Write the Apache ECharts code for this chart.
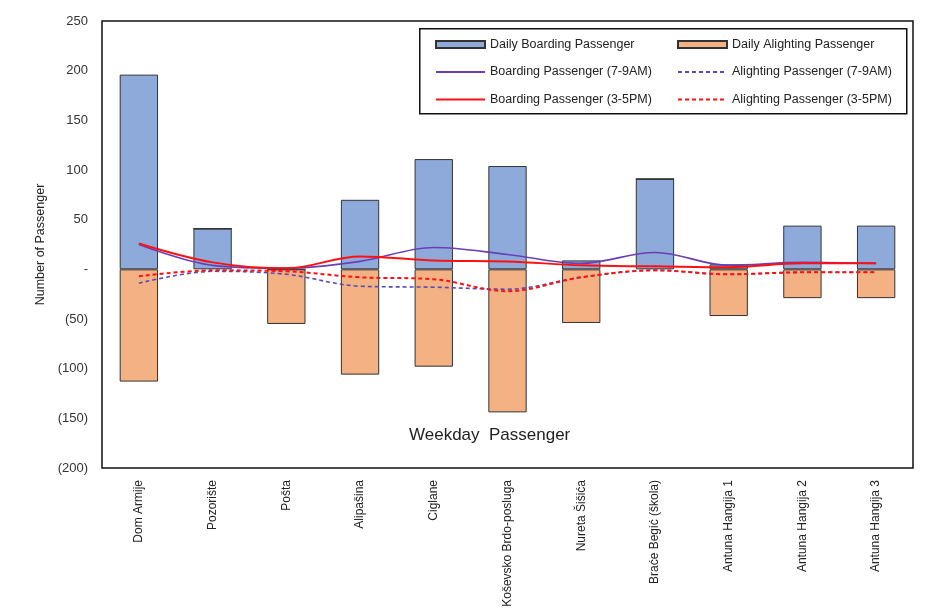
<!DOCTYPE html>
<html>
<head>
<meta charset="utf-8">
<script src="https://cdn.jsdelivr.net/npm/echarts@6/dist/echarts.min.js"></script>
<style>
  html, body { margin: 0; padding: 0; background: #fff; }
  #chart { width: 932px; height: 611px; }
</style>
</head>
<body>
<div id="chart"></div>
<script>
// Bus stops along the route
const stops = ['Dom Armije', 'Pozorište', 'Pošta', 'Alipašina', 'Ciglane', 'Koševsko Brdo-posluga',
  'Nureta Šišića', 'Braće Begić (škola)', 'Antuna Hangija 1', 'Antuna Hangija 2', 'Antuna Hangija 3'];

// Daily totals (alighting shown as negative)
const dailyBoarding = [196, 41, 0, 70, 111, 104, 9, 91, 5, 44, 44];
const dailyAlighting = [-113, 0, -55, -106, -98, -144, -54, 0, -47, -29, -29];

// Peak-hour counts
const boardingAM = [25, 4, 1, 8, 22, 15, 6, 17, 4, 7, 6];
const alightingAM = [-14, -2, -5, -17, -18, -20, -8, -1, -5, -3, -3];
const boardingPM = [26, 7, 1, 13, 9, 8, 4, 3, 2, 6, 6];
const alightingPM = [-7, -1, -2, -8, -10, -22, -8, -1, -5, -3, -3];

// Y axis range
const yMin = -200, yMax = 250, yStep = 50;

const fontFamily = '"Liberation Sans", Arial, sans-serif';
const chart = echarts.init(document.getElementById('chart'));

function fmtY(v) {
  if (v === 0) return '-';
  return v < 0 ? '(' + Math.abs(v) + ')' : String(v);
}

const legendText = { fontFamily, fontSize: 12.5, color: '#222' };
// line entries: plain line sample, no marker dot
const lineItem = name => ({ name, itemStyle: { opacity: 0 } });

chart.setOption({
  animation: false,
  backgroundColor: '#fff',
  textStyle: { fontFamily },
  grid: {
    left: 102, right: 19, top: 21, bottom: 143,
    containLabel: false, outerBoundsMode: 'none',
    show: true, borderColor: '#111', borderWidth: 1.5, backgroundColor: 'transparent'
  },
  legend: [
    {
      orient: 'vertical', left: 435, top: 38, z: 20, padding: 0,
      itemWidth: 49, itemHeight: 7, itemGap: 14.5,
      textStyle: legendText,
      data: [{ name: 'Daily Boarding Passenger', icon: 'rect' },
        lineItem('Boarding Passenger (7-9AM)'), lineItem('Boarding Passenger (3-5PM)')]
    },
    {
      orient: 'vertical', left: 677, top: 38, z: 20, padding: 0,
      itemWidth: 49, itemHeight: 7, itemGap: 14.5,
      textStyle: legendText,
      data: [{ name: 'Daily Alighting Passenger', icon: 'rect' },
        lineItem('Alighting Passenger (7-9AM)'), lineItem('Alighting Passenger (3-5PM)')]
    }
  ],
  graphic: [
    {
      type: 'rect', left: 419, top: 28, z: 10,
      shape: { width: 487, height: 85 },
      style: { fill: '#fff', stroke: '#111', lineWidth: 1.5 }
    },
    {
      type: 'text', left: 409, top: 427, z: 5,
      style: { text: 'Weekday  Passenger', font: '17px "Liberation Sans", Arial, sans-serif', fill: '#222' }
    }
  ],
  xAxis: {
    type: 'category',
    data: stops,
    axisLine: { show: false, onZero: false },
    axisTick: { show: false },
    axisLabel: { rotate: 90, margin: 12, fontSize: 12, color: '#222', fontFamily }
  },
  yAxis: {
    type: 'value',
    min: yMin, max: yMax, interval: yStep,
    name: 'Number of Passenger',
    nameLocation: 'middle', nameGap: 52,
    nameTextStyle: { fontSize: 12.5, color: '#222', fontFamily },
    axisLine: { show: false },
    axisTick: { show: false },
    splitLine: { show: false },
    axisLabel: { formatter: fmtY, fontSize: 13, color: '#333', fontFamily, margin: 14 }
  },
  series: [
    {
      name: 'Daily Boarding Passenger', type: 'bar', stack: 'daily',
      data: dailyBoarding, barWidth: '52%',
      itemStyle: { color: '#8eaadb', borderColor: '#333', borderWidth: 1 }
    },
    {
      name: 'Daily Alighting Passenger', type: 'bar', stack: 'daily',
      data: dailyAlighting, barWidth: '52%',
      itemStyle: { color: '#f4b183', borderColor: '#333', borderWidth: 1 }
    },
    {
      name: 'Boarding Passenger (7-9AM)', type: 'line', data: boardingAM,
      smooth: 0.35, symbol: 'none',
      lineStyle: { color: '#6a3fb5', width: 1.6 }, itemStyle: { color: '#6a3fb5' }
    },
    {
      name: 'Alighting Passenger (7-9AM)', type: 'line', data: alightingAM,
      smooth: 0.35, symbol: 'none',
      lineStyle: { color: '#5a4bb0', width: 1.6, type: [4, 3] }, itemStyle: { color: '#5a4bb0' }
    },
    {
      name: 'Boarding Passenger (3-5PM)', type: 'line', data: boardingPM,
      smooth: 0.35, symbol: 'none',
      lineStyle: { color: '#ff1010', width: 2 }, itemStyle: { color: '#ff1010' }
    },
    {
      name: 'Alighting Passenger (3-5PM)', type: 'line', data: alightingPM,
      smooth: 0.35, symbol: 'none',
      lineStyle: { color: '#ff1010', width: 2, type: [4, 3] }, itemStyle: { color: '#ff1010' }
    }
  ]
});
</script>
</body>
</html>
